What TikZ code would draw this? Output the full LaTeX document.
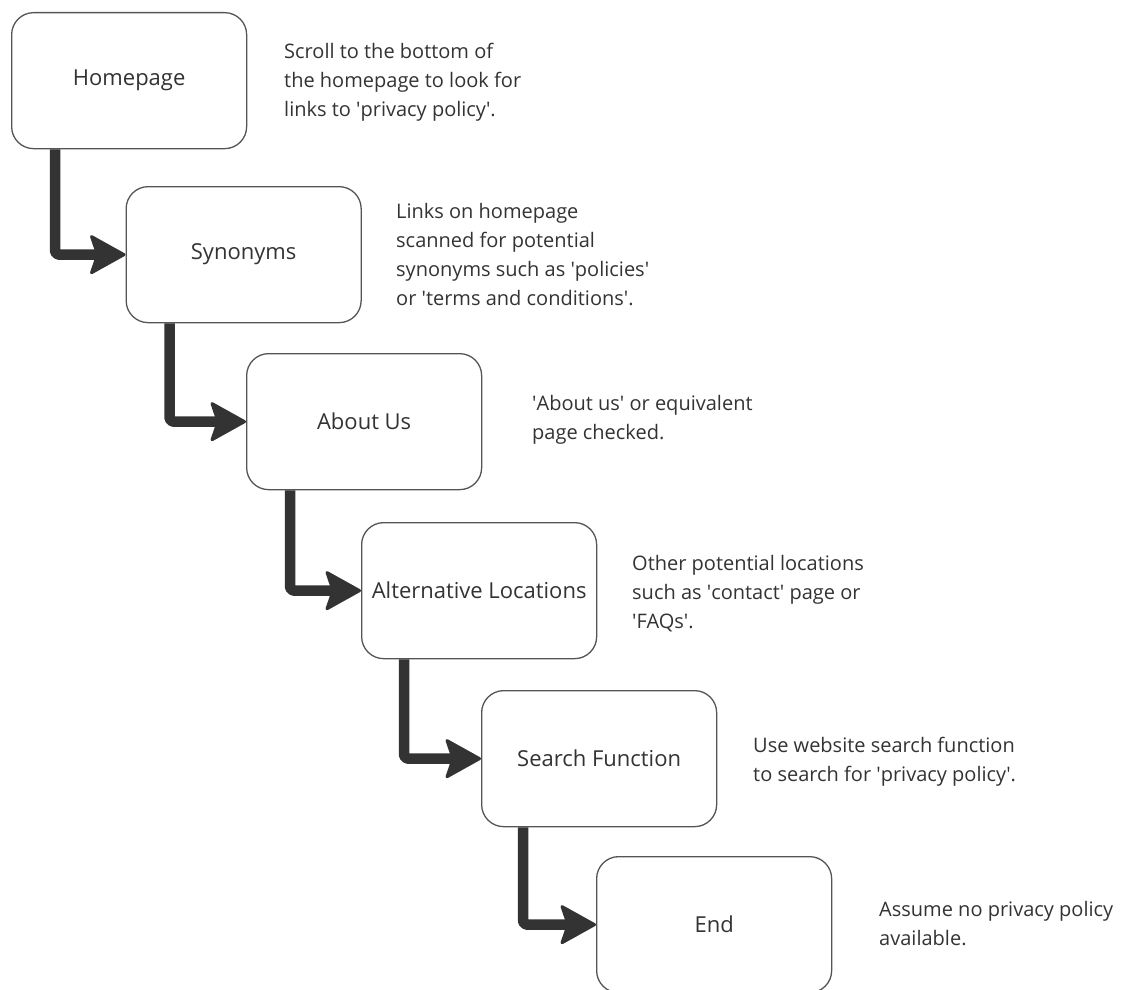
\documentclass[tikz,border=0pt]{standalone}
\usepackage{fontspec}
\setmainfont{Open Sans}
\usetikzlibrary{arrows.meta}
\definecolor{ink}{HTML}{333333}
\definecolor{edge}{HTML}{555555}
\newcommand{\sq}{\textquotesingle}
\begin{document}
\begin{tikzpicture}[x=1pt,y=-1pt,
  stepbox/.style={draw=edge, line width=1.3pt, rounded corners=22pt, fill=white,
    minimum width=235pt, minimum height=136pt, inner sep=0pt, anchor=north west,
    text=ink, font=\fontsize{22}{28}\selectfont},
  note/.style={anchor=west, align=left, text=ink, inner sep=0pt,
    font=\fontsize{20}{29}\selectfont},
  flow/.style={draw=ink, line width=10.5pt, line join=round, rounded corners=4pt,
    -{Stealth[length=38pt, width=42pt, inset=7pt, line width=3pt, round]}}]
\useasboundingbox (0,0) rectangle (1122,990);

% process steps
\node[stepbox] (home)   at (11,12)     {Homepage};
\node[stepbox] (syn)    at (125.5,186) {Synonyms};
\node[stepbox] (about)  at (246,353)   {About Us};
\node[stepbox] (alt)    at (361,522)   {Alternative Locations};
\node[stepbox] (search) at (481,690)   {Search Function};
\node[stepbox] (end)    at (596,856)   {End};

% descriptions beside each step
\node[note] (n1) at (284,82)  {Scroll to the bottom of\\the homepage to look for\\links to \sq privacy policy\sq.};
\node[note] (n2) at (396,255) {Links on homepage\\scanned for potential\\synonyms such as \sq policies\sq\\or \sq terms and conditions\sq.};
\node[note] (n3) at (532,420) {\sq About us\sq{} or equivalent\\page checked.};
\node[note] (n4) at (632,594) {Other potential locations\\such as \sq contact\sq{} page or\\\sq FAQs\sq.};
\node[note] (n5) at (753,762) {Use website search function\\to search for \sq privacy policy\sq.};
\node[note] (n6) at (879,924) {Assume no privacy policy\\available.};

% connectors
\draw[flow] ([xshift=44pt]home.south west)   |- (syn.west);
\draw[flow] ([xshift=44pt]syn.south west)    |- (about.west);
\draw[flow] ([xshift=44pt]about.south west)  |- (alt.west);
\draw[flow] ([xshift=43pt]alt.south west)    |- (search.west);
\draw[flow] ([xshift=42pt]search.south west) |- (end.west);
\end{tikzpicture}
\end{document}
